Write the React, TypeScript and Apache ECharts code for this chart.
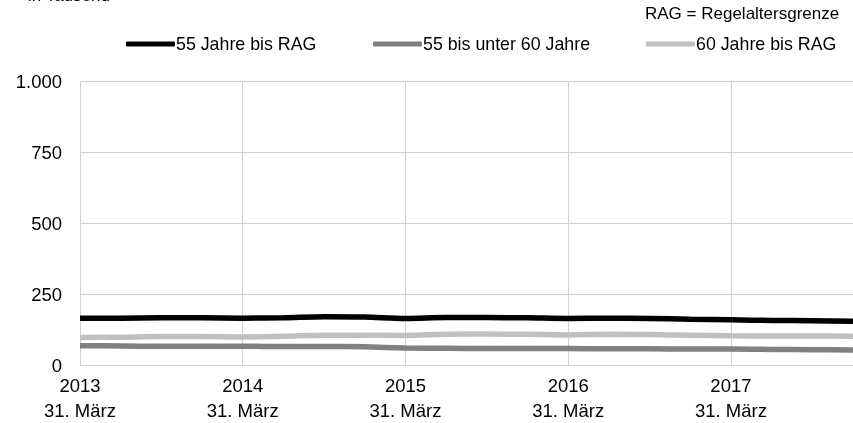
import React, { useEffect, useRef } from "react";
import * as echarts from "echarts";

const quarters = [
  "2013-Q1", "2013-Q2", "2013-Q3", "2013-Q4",
  "2014-Q1", "2014-Q2", "2014-Q3", "2014-Q4",
  "2015-Q1", "2015-Q2", "2015-Q3", "2015-Q4",
  "2016-Q1", "2016-Q2", "2016-Q3", "2016-Q4",
  "2017-Q1", "2017-Q2", "2017-Q3", "2017-Q4",
];
const seriesNames = ["55 Jahre bis RAG", "55 bis unter 60 Jahre", "60 Jahre bis RAG"];
const total55 = [165, 165, 166, 166, 165, 166, 170, 169, 164, 167, 167, 166, 164, 165, 164, 161, 159, 157, 156, 154];
const age55to60 = [68, 67, 66, 66, 66, 65, 65, 64, 60, 59, 58, 58, 58, 57, 57, 56, 56, 55, 54, 53];
const age60 = [97, 98, 100, 100, 99, 101, 105, 105, 104, 108, 109, 108, 106, 108, 107, 105, 103, 102, 102, 101];
const yTicks = [0, 250, 500, 750, 1000];
const colors = ["#000000", "#808080", "#c0c0c0"];

const FONT = "'Liberation Sans', Arial, sans-serif";

export default function App() {
  const ref = useRef<HTMLDivElement>(null);
  useEffect(() => {
    if (!ref.current) return;
    const chart = echarts.init(ref.current, null, { renderer: "svg" });
    const values = [total55, age55to60, age60];
    const legendLefts = [126, 373, 646];
    chart.setOption({
      animation: false,
      textStyle: { fontFamily: FONT },
      grid: { left: 80, right: -5, top: 81, bottom: 56 },
      graphic: [
        { type: "text", left: 28, top: -13, style: { text: "in Tausend", font: `17px ${FONT}`, fill: "#000" } },
        { type: "text", left: 645, top: 5, style: { text: "RAG = Regelaltersgrenze", font: `17px ${FONT}`, fill: "#000" } },
      ],
      legend: seriesNames.map((n, i) => ({
        data: [n],
        left: legendLefts[i],
        top: 35,
        icon: "roundRect",
        itemWidth: 49,
        itemHeight: 5,
        padding: 0,
        textStyle: { fontSize: 17.8, color: "#000", fontFamily: FONT, padding: [0, 0, 0, -4] },
      })),
      xAxis: {
        type: "category",
        boundaryGap: false,
        data: quarters,
        axisLine: { show: false },
        axisTick: { show: false },
        splitLine: { show: true, interval: 3, lineStyle: { color: "#d0d0d0", width: 1 } },
        axisLabel: {
          interval: 3,
          margin: 8,
          color: "#000",
          fontSize: 18.5,
          lineHeight: 25,
          fontFamily: FONT,
          formatter: (v: string) => `${v.slice(0, 4)}\n31. März`,
        },
      },
      yAxis: {
        type: "value",
        min: yTicks[0],
        max: yTicks[yTicks.length - 1],
        interval: 250,
        axisLine: { show: false },
        axisTick: { show: false },
        splitLine: { lineStyle: { color: "#d0d0d0", width: 1 } },
        axisLabel: {
          color: "#000",
          fontSize: 18.5,
          margin: 18,
          fontFamily: FONT,
          formatter: (v: number) => (v >= 1000 ? `${Math.floor(v / 1000)}.${String(v % 1000).padStart(3, "0")}` : `${v}`),
        },
      },
      series: seriesNames.map((n, i) => ({
        name: n,
        type: "line",
        data: values[i],
        smooth: 0.3,
        showSymbol: false,
        symbol: "none",
        color: colors[i],
        lineStyle: { color: colors[i], width: 5.5 },
        z: 3 - i,
      })),
    });
    return () => chart.dispose();
  }, []);
  return <div ref={ref} style={{ position: "fixed", left: 0, top: 0, width: 853, height: 423 }} />;
}
